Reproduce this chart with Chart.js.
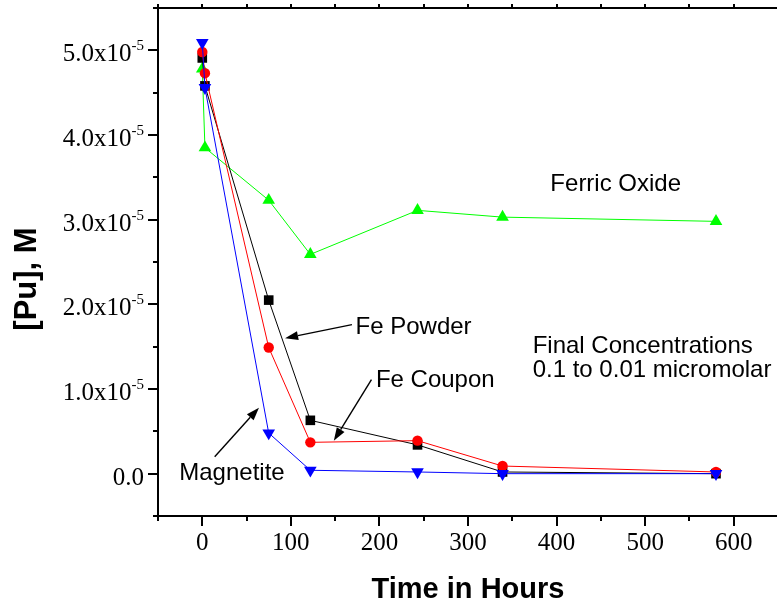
<!DOCTYPE html>
<html>
<head>
<meta charset="utf-8">
<script src="https://cdn.jsdelivr.net/npm/chart.js@4.4.1/dist/chart.umd.min.js"></script>
<style>
    html, body { margin: 0; padding: 0; background: #fff; overflow: hidden; }
    #wrap { width: 777px; height: 604px; overflow: hidden; }
    canvas { display: block; }
</style>
</head>
<body>
<div id="wrap"><canvas id="puChart" width="790" height="604"></canvas></div>
<script>
// sampling times (hours)
const hours = [0, 3, 75, 122, 243, 339, 580];

// [Pu] in M for each sorbent
const magnetite = [5.09e-5, 4.56e-5, 0.48e-5, 0.04e-5, 0.02e-5, 0.0, 0.0];
const feCoupon = [4.98e-5, 4.73e-5, 1.49e-5, 0.37e-5, 0.39e-5, 0.09e-5, 0.02e-5];
const fePowder = [4.91e-5, 4.58e-5, 2.05e-5, 0.63e-5, 0.34e-5, 0.02e-5, 0.0];
const ferricOxide = [4.78e-5, 3.85e-5, 3.23e-5, 2.59e-5, 3.11e-5, 3.03e-5, 2.98e-5];

// axis ticks
const xTickValues = [0, 100, 200, 300, 400, 500, 600];
const yTickValues = [0, 1e-5, 2e-5, 3e-5, 4e-5, 5e-5];
const yTickLabels = ['0.0', '1.0', '2.0', '3.0', '4.0', '5.0'];

// text notes and arrows, in data units (hours, M)
const notes = [
    { text: 'Ferric Oxide', t: 393, v: 3.34e-5 },
    { text: 'Fe Powder', t: 173, v: 1.65e-5 },
    { text: 'Fe Coupon', t: 196, v: 1.02e-5 },
    { text: 'Final Concentrations', t: 373, v: 1.43e-5 },
    { text: '0.1 to 0.01 micromolar', t: 373, v: 1.14e-5 },
    { text: 'Magnetite', t: -26, v: -0.07e-5 }
];
const arrows = [
    { from: [169, 1.76e-5], to: [93.5, 1.60e-5] },
    { from: [191, 1.11e-5], to: [148.5, 0.39e-5] },
    { from: [14, 0.20e-5], to: [64, 0.78e-5] }
];

const pts = (ys) => hours.map((h, i) => ({ x: h, y: ys[i] }));

function series(label, ys, color, style, radius, rotation, order) {
    return {
        label: label,
        data: pts(ys),
        borderColor: color,
        backgroundColor: color,
        borderWidth: 1,
        pointStyle: style,
        pointRadius: radius,
        pointRotation: rotation,
        pointBorderWidth: 0,
        pointBackgroundColor: color,
        order: order
    };
}

const isMajorX = (v) => Math.abs(v % 100) < 1e-6;
const isMajorY = (v) => Math.abs(v / 1e-5 - Math.round(v / 1e-5)) < 1e-6;

// ticks, frame, y labels, axis title, notes
const decor = {
    id: 'decor',
    afterDraw(chart) {
        const ctx = chart.ctx;
        const x = chart.scales.x;
        const y = chart.scales.y;
        const area = chart.chartArea;
        ctx.save();
        ctx.strokeStyle = '#000';
        ctx.fillStyle = '#000';

        // frame top / right
        ctx.lineWidth = 2;
        ctx.beginPath();
        ctx.moveTo(area.left, area.top);
        ctx.lineTo(area.right, area.top);
        ctx.lineTo(area.right, area.bottom);
        ctx.stroke();

        // x ticks
        ctx.lineWidth = 2;
        x.ticks.forEach(tk => {
            const px = Math.round(x.getPixelForValue(tk.value));
            const len = isMajorX(tk.value) ? 10 : 5;
            ctx.beginPath();
            ctx.moveTo(px, area.bottom);
            ctx.lineTo(px, area.bottom + len);
            ctx.moveTo(px, area.top);
            ctx.lineTo(px, area.top - 4);
            ctx.stroke();
        });

        // y ticks
        y.ticks.forEach(tk => {
            const py = Math.round(y.getPixelForValue(tk.value));
            const len = isMajorY(tk.value) ? 10 : 5;
            ctx.beginPath();
            ctx.moveTo(area.left, py);
            ctx.lineTo(area.left - len, py);
            ctx.stroke();
        });

        // y labels with superscript exponent
        ctx.textBaseline = 'alphabetic';
        yTickValues.forEach((v, i) => {
            const py = y.getPixelForValue(v);
            const right = 144;
            if (v === 0) {
                ctx.font = '25px "Liberation Serif"';
                ctx.textAlign = 'right';
                ctx.fillText(yTickLabels[i], right, py + 11);
                return;
            }
            ctx.font = '15px "Liberation Serif"';
            ctx.textAlign = 'right';
            const sup = '-5';
            const supW = ctx.measureText(sup).width;
            ctx.fillText(sup, right, py);
            ctx.font = '25px "Liberation Serif"';
            ctx.fillText(yTickLabels[i] + 'x10', right - supW, py + 11);
        });

        // y axis title
        ctx.save();
        ctx.translate(27, 279);
        ctx.rotate(-Math.PI / 2);
        ctx.font = 'bold 31px "Liberation Sans"';
        ctx.textAlign = 'center';
        ctx.textBaseline = 'middle';
        ctx.fillText('[Pu], M', 0, 0);
        ctx.restore();

        // notes
        ctx.font = '24px "Liberation Sans"';
        ctx.textAlign = 'left';
        ctx.textBaseline = 'alphabetic';
        notes.forEach(n => {
            ctx.fillText(n.text, x.getPixelForValue(n.t), y.getPixelForValue(n.v));
        });

        // arrows
        ctx.lineWidth = 1.4;
        arrows.forEach(a => {
            const x0 = x.getPixelForValue(a.from[0]), y0 = y.getPixelForValue(a.from[1]);
            const x1 = x.getPixelForValue(a.to[0]), y1 = y.getPixelForValue(a.to[1]);
            const ang = Math.atan2(y1 - y0, x1 - x0);
            const head = 13, half = 4.5;
            const bx = x1 - head * Math.cos(ang), by = y1 - head * Math.sin(ang);
            ctx.beginPath();
            ctx.moveTo(x0, y0);
            ctx.lineTo(bx, by);
            ctx.stroke();
            ctx.beginPath();
            ctx.moveTo(x1, y1);
            ctx.lineTo(bx + half * Math.sin(ang), by - half * Math.cos(ang));
            ctx.lineTo(bx - half * Math.sin(ang), by + half * Math.cos(ang));
            ctx.closePath();
            ctx.fill();
        });

        ctx.restore();
    }
};

const ctx = document.getElementById('puChart').getContext('2d');

new Chart(ctx, {
    type: 'line',
    data: {
        datasets: [
            series('Magnetite', magnetite, '#0000ff', 'triangle', 7.3, 180, 0),
            series('Fe Coupon', feCoupon, '#ff0000', 'circle', 5.2, 0, 1),
            series('Fe Powder', fePowder, '#000000', 'rect', 6.8, 0, 2),
            series('Ferric Oxide', ferricOxide, '#00ff00', 'triangle', 7.3, 0, 3)
        ]
    },
    options: {
        responsive: false,
        animation: false,
        devicePixelRatio: 1,
        events: [],
        layout: { padding: { left: 0, top: 8, right: 8, bottom: 0 } },
        plugins: { legend: { display: false }, tooltip: { enabled: false } },
        scales: {
            x: {
                type: 'linear',
                min: -50,
                max: 650,
                afterFit: (s) => { s.height = 88; },
                afterBuildTicks: (s) => {
                    const t = [];
                    for (let v = -50; v <= 650; v += 50) t.push({ value: v });
                    s.ticks = t;
                },
                ticks: {
                    autoSkip: false,
                    maxRotation: 0,
                    padding: 12,
                    color: '#000',
                    font: { family: 'Liberation Serif', size: 25 },
                    callback: (v) => xTickValues.includes(v) ? String(v) : ''
                },
                grid: { display: false, drawTicks: false },
                border: { display: true, color: '#000', width: 2 },
                title: {
                    display: true,
                    text: 'Time in Hours',
                    color: '#000',
                    font: { family: 'Liberation Sans', size: 29, weight: 'bold', lineHeight: 1 },
                    padding: { top: 0, bottom: 0 }
                }
            },
            y: {
                type: 'linear',
                min: -0.5e-5,
                max: 5.5e-5,
                afterFit: (s) => { s.width = 158; },
                afterBuildTicks: (s) => {
                    const t = [];
                    for (let k = -1; k <= 11; k++) t.push({ value: k * 0.5e-5 });
                    s.ticks = t;
                },
                ticks: { display: false },
                grid: { display: false, drawTicks: false },
                border: { display: true, color: '#000', width: 2 }
            }
        }
    },
    plugins: [decor]
});
</script>
</body>
</html>
